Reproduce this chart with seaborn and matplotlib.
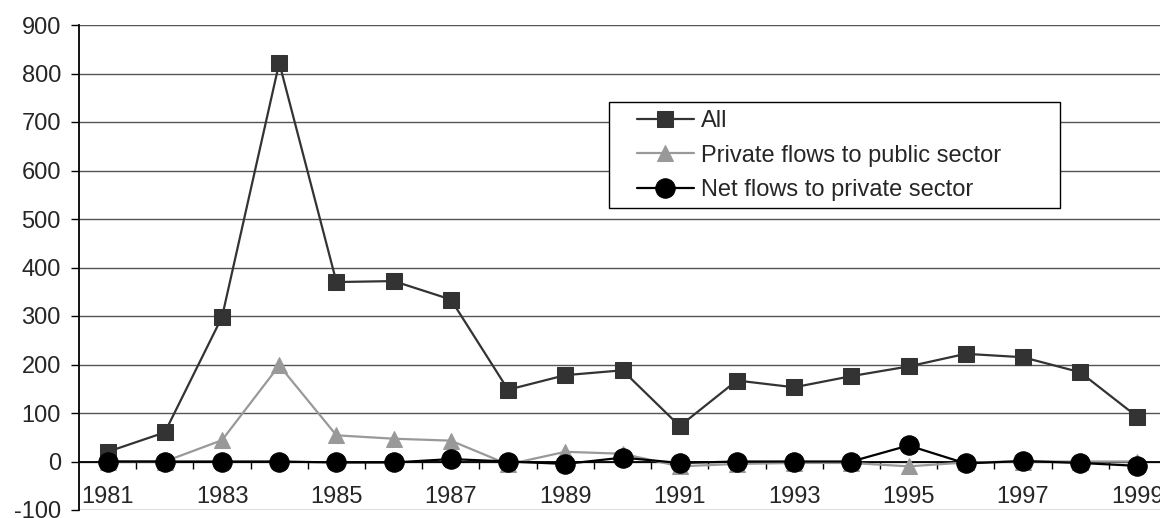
import numpy as np
import pandas as pd
import matplotlib
matplotlib.use("Agg")
import matplotlib.pyplot as plt
from matplotlib.patches import Rectangle
import seaborn as sns

years = list(range(1981, 2000))
all_flows = [20, 60, 298, 822, 370, 372, 334, 148, 178, 188, 73, 167, 153, 176, 196, 222, 215, 184, 92]
private_to_public = [0, 0, 44, 198, 54, 47, 43, -6, 20, 16, -10, -5, -3, -3, -10, -2, 0, 0, 0]
net_to_private = [0, 0, 0, 0, -2, -2, 5, 0, -5, 8, -3, 0, 0, 0, 33, -4, 1, -3, -9]
series_names = ["All", "Private flows to public sector", "Net flows to private sector"]
tick_years = [str(y) for y in years[::2]]
y_ticks = list(range(-100, 1000, 100))

sns.set_theme(style="white")
plt.rcParams["font.family"] = ["Liberation Sans", "DejaVu Sans"]

FS = 17

fig = plt.figure(figsize=(11.6, 5.18), dpi=100)
W, H = 1160, 518
left_px, right_px, top_px, bottom_px = 79, 1166, 25, 510
ax = fig.add_axes([left_px / W, (H - bottom_px) / H,
                   (right_px - left_px) / W, (bottom_px - top_px) / H])

idx = np.arange(len(years))
df = pd.DataFrame({"pos": idx, "all": all_flows,
                   "pub": private_to_public, "priv": net_to_private})

styles = [
    ("all", series_names[0], "#333333", "s", 11),
    ("pub", series_names[1], "#999999", "^", 11),
    ("priv", series_names[2], "#000000", "o", 14),
]
for col, name, color, marker, ms in styles:
    sns.lineplot(data=df, x="pos", y=col, ax=ax, color=color, marker=marker,
                 markersize=ms, markeredgecolor=color, markerfacecolor=color,
                 linewidth=1.6, label=name, zorder=3, clip_on=False)

ax.set_xlim(-0.5, len(years) - 0.5)
ax.set_ylim(-100, 900)
ax.set_xlabel("")
ax.set_ylabel("")

# horizontal gridlines
for v in y_ticks:
    ax.axhline(v, color="#555555", linewidth=1.0, zorder=1)

ax.set_yticks(y_ticks)
ax.set_yticklabels([str(v) for v in y_ticks])
ax.tick_params(axis="y", length=6, width=1, color="black", direction="out",
               left=True, pad=7, labelsize=FS)

ax.set_xticks(idx[::2])
ax.set_xticklabels(tick_years)
ax.set_xticks(np.arange(0.5, len(years) - 0.5, 1), minor=True)
ax.tick_params(axis="x", which="major", length=0, pad=17.5, bottom=True,
               labelsize=FS)
ax.tick_params(axis="x", which="minor", length=5, width=1, color="black",
               direction="out", bottom=True)

for s in ["top", "right"]:
    ax.spines[s].set_visible(False)
ax.spines["bottom"].set_position(("data", 0))
ax.spines["bottom"].set_color("black")
ax.spines["bottom"].set_linewidth(1.3)
ax.spines["bottom"].set_zorder(2)
ax.spines["left"].set_color("black")
ax.spines["left"].set_linewidth(1.3)

# legend box with a wide right margin
ax.add_patch(Rectangle((0.4876, 0.6227), 0.9025 - 0.4876, 0.8412 - 0.6227,
                       transform=ax.transAxes, facecolor="white",
                       edgecolor="black", linewidth=1, zorder=4))
leg = ax.legend(loc="upper left", bbox_to_anchor=(0.5133, 0.825),
                borderaxespad=0, borderpad=0, fontsize=FS, frameon=False,
                handlelength=2.4, handletextpad=0.3, labelspacing=0.54)
leg.set_zorder(5)

fig.savefig("out.png", dpi=100)
